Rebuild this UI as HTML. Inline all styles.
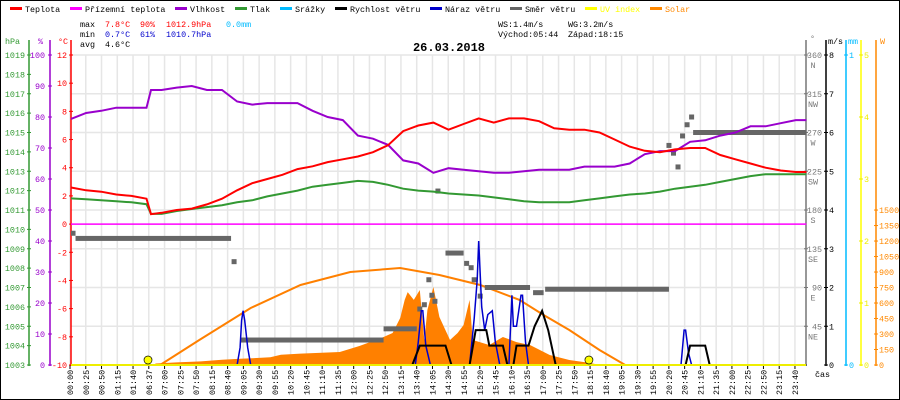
<!DOCTYPE html>
<html><head><meta charset="utf-8"><style>
html,body{margin:0;padding:0;background:#fff;}
svg{display:block;font-family:"Liberation Mono",monospace;}
</style></head><body>
<svg id="chart" width="900" height="400" viewBox="0 0 900 400" xmlns="http://www.w3.org/2000/svg">
<rect x="0.5" y="0.5" width="899" height="399" fill="#fff" stroke="#000"/>
<g id="grid"></g>
<g font-size="8.4">
<g><rect x="10" y="7" width="12" height="3" fill="#f00"/><text x="25" y="12">Teplota</text></g>
<g><rect x="70" y="7" width="12" height="3" fill="#f0f"/><text x="85" y="12">Přízemní teplota</text></g>
<g><rect x="175" y="7" width="12" height="3" fill="#90c"/><text x="190" y="12">Vlhkost</text></g>
<g><rect x="235" y="7" width="12" height="3" fill="#393"/><text x="250" y="12">Tlak</text></g>
<g><rect x="280" y="7" width="12" height="3" fill="#0bf"/><text x="295" y="12">Srážky</text></g>
<g><rect x="335" y="7" width="12" height="3" fill="#000"/><text x="350" y="12">Rychlost větru</text></g>
<g><rect x="430" y="7" width="12" height="3" fill="#00c"/><text x="445" y="12">Náraz větru</text></g>
<g><rect x="510" y="7" width="12" height="3" fill="#666"/><text x="525" y="12">Směr větru</text></g>
<g><rect x="585" y="7" width="12" height="3" fill="#ff0"/><text x="600" y="12" fill="#ff0">UV index</text></g>
<g><rect x="650" y="7" width="12" height="3" fill="#f80"/><text x="665" y="12" fill="#f80">Solar</text></g>
</g>
<g font-size="8.4">
<text x="80" y="27">max</text><text x="105" y="27" fill="#f00">7.8°C</text><text x="140" y="27" fill="#f00">90%</text><text x="166" y="27" fill="#f00">1012.9hPa</text><text x="226" y="27" fill="#0bf">0.0mm</text>
<text x="80" y="37">min</text><text x="105" y="37" fill="#00c">0.7°C</text><text x="140" y="37" fill="#00c">61%</text><text x="166" y="37" fill="#00c">1010.7hPa</text>
<text x="80" y="47">avg</text><text x="105" y="47">4.6°C</text>
<text x="498" y="27">WS:1.4m/s</text><text x="568" y="27">WG:3.2m/s</text>
<text x="498" y="37">Východ:05:44</text><text x="568" y="37">Západ:18:15</text>
</g>
<text x="449" y="51" font-size="12" font-weight="bold" text-anchor="middle">26.03.2018</text>
<g id="axes" font-size="8.4"></g>
<g id="marks"></g>
<text x="815" y="377" font-size="8.4">čas</text>
</svg>
<script>
// x domain: sample position t (0 .. 48.7)
const timeLabels = ["00:00","00:25","00:50","01:15","01:40","06:37","07:00","07:25","07:50","08:15","08:40","09:05","09:30","09:55","10:20","10:45","11:10","11:35","12:00","12:25","12:50","13:15","13:40","14:05","14:30","14:55","15:20","15:45","16:10","16:35","17:00","17:25","17:50","18:15","18:40","19:05","19:30","19:55","20:20","20:45","21:10","21:35","22:00","22:25","22:50","23:15","23:40"];
const tempT = [0,1,2,3,4,5,5.3,6,7,8,9,10,11,12,13,14,15,16,17,18,19,20,21,22,23,24,25,26,27,28,29,30,31,32,33,34,35,36,37,38,39,40,41,42,43,44,45,46,47,48,48.7];
const tempVal = [2.6,2.4,2.3,2.1,2.0,1.8,0.7,0.8,1.0,1.1,1.4,1.8,2.4,2.9,3.2,3.5,3.9,4.1,4.4,4.6,4.8,5.1,5.6,6.6,7.0,7.2,6.7,7.1,7.5,7.2,7.5,7.5,7.3,6.8,6.7,6.7,6.5,6.0,5.5,5.2,5.1,5.3,5.4,5.4,4.9,4.6,4.3,4.0,3.8,3.7,3.7];
const humVal = [79.4,81.3,82,83,83,83,88.7,88.7,89.5,90,88.7,88.7,85,84,84.5,84.5,84.5,82,80,79,74,73,71,66,65,62,63.5,63,62.5,62,62,62.5,63,63,63,64,64,64,65,68,69,69,72,72.5,74,75,77,77,78,79,79];
const pressVal = [1011.6,1011.55,1011.5,1011.45,1011.4,1011.3,1010.8,1010.8,1010.95,1011.05,1011.15,1011.25,1011.4,1011.5,1011.7,1011.85,1012.0,1012.2,1012.3,1012.4,1012.5,1012.45,1012.3,1012.1,1012.0,1011.95,1011.85,1011.8,1011.75,1011.65,1011.55,1011.45,1011.4,1011.4,1011.4,1011.5,1011.6,1011.7,1011.8,1011.85,1011.95,1012.1,1012.2,1012.3,1012.45,1012.6,1012.75,1012.85,1012.85,1012.85,1012.85];
const dewVal = [0,0];
const dewT = [0,48.7];
const speedT = [0,22.6,23.1,24.8,25.2,26.4,26.8,27.5,27.7,28.6,28.9,29.3,29.5,30.3,30.7,31.2,31.6,32.1,40.7,41.0,42.0,42.3,48.7];
const speedVal = [0,0,0.5,0.5,0,0,0.9,0.9,0.5,0.5,0,0,0.5,0.5,1.0,1.4,0.9,0,0,0.5,0.5,0,0];
const gustT = [0,11.0,11.2,11.3,11.4,11.5,11.7,11.9,22.8,23.0,23.2,23.3,23.5,23.8,26.4,26.7,26.9,27.0,27.2,27.4,27.6,27.9,28.1,28.4,29.0,29.2,29.3,29.5,29.8,29.9,30.1,30.3,40.4,40.6,40.7,40.9,41.1,48.7];
const gustVal = [0,0,0.45,1.15,1.4,1.15,0.45,0,0,0.6,1.4,1.4,0.5,0,0,1.2,2.2,3.2,1.5,0.9,1.3,1.4,0.6,0,0,1.8,1.0,1.0,1.8,1.8,0.6,0,0,0.9,0.9,0.3,0,0];
const dirRunStart = [0,0.3,11.2,20.7,24.8,27.4,30.6,31.4,41.2];
const dirRunEnd = [0.3,10.6,20.7,22.9,26.0,30.4,31.3,39.6,48.7];
const dirRunVal = [153,147,29,42,130,90,84,88,270];
const dirPtT = [10.8,23.1,23.4,23.7,23.9,24.1,24.3,26.2,26.5,26.7,27.1,39.6,39.9,40.2,40.5,40.8,41.1];
const dirPtVal = [120,65,70,99,81,74,202,118,113,99,80,255,246,230,266,279,288];
const solarT = [0,5.5,5.6,7,8.6,10.0,11.2,12.6,13.2,13.9,15.2,17.8,19.1,19.8,20.7,21.3,21.8,22.1,22.3,22.7,23.1,23.4,23.6,24.0,24.4,25.1,25.6,26.0,26.4,26.6,27.7,28.6,29.5,30.4,31.7,33.0,34.4,35.0,48.7];
const solarVal = [0,0,15,25,35,50,60,70,75,100,110,126,184,222,271,310,455,630,706,630,726,242,532,755,465,242,310,387,630,242,194,271,222,194,97,48,19,0,0];
const clearT = [5.9,8.5,11.9,15.2,18.5,21.8,24.4,27.1,29.7,31.3,33.0,35.0,36.7];
const clearVal = [0,242,552,774,900,939,871,774,630,484,339,145,0];
const uvDotT = [5.1,34.3];
const uvDotVal = [0,0];

const X0=71, X1=806, Y0=365, Y1=55;
function xs(t){return X0 + t*15.1;}
function yT(v){return Y0 - (v+10)*(Y0-Y1)/22;}
function yH(v){return Y0 - v*(Y0-Y1)/100;}
function yP(v){return Y0 - (v-1003)*(Y0-Y1)/16;}
function yS(v){return Y0 - v*(Y0-Y1)/8;}
function yD(v){return Y0 - v*(Y0-Y1)/360;}
function yW(v){return Y0 - v*0.1033;}
function yU(v){return Y0 - v*(Y0-Y1)/5;}
const NS="http://www.w3.org/2000/svg";
function mk(tag,attrs,parent){const e=document.createElementNS(NS,tag);for(const k in attrs)e.setAttribute(k,attrs[k]);parent.appendChild(e);return e;}
const grid=document.getElementById('grid'), axes=document.getElementById('axes'), marks=document.getElementById('marks');

// grid
for(let k=0;k<=8;k++){const y=Y0-k*(Y0-Y1)/8;const l=mk('line',{x1:X0,x2:X1,y1:y,y2:y,stroke:'#e6e6e6','stroke-width':1.5},grid);

}
timeLabels.forEach((lab,k)=>{const x=70+k*15.76;const l=mk('line',{x1:x,x2:x,y1:Y1,y2:Y0,stroke:'#e6e6e6','stroke-width':1.5},grid);


const t=mk('text',{x:0,y:0,transform:`translate(${x+3},395) rotate(-90)`,'font-size':8.4},axes);t.textContent=lab;


const tk=mk('line',{x1:x,x2:x,y1:365,y2:369,stroke:'#000'},axes);

});

// axis lines
const axisDefs=[[29,'#393'],[50,'#90c'],[71,'#f00'],[806,'#777'],[826,'#000'],[846,'#0bf'],[861,'#ff0'],[876,'#f80']];
axisDefs.forEach(a=>{const l=mk('line',{x1:a[0],x2:a[0],y1:40,y2:366,stroke:a[1],'stroke-width':1.5},axes);

});
function tickLabel(x,y,txt,col,anchor,name){const t=mk('text',{x:x,y:y+3,fill:col,'text-anchor':anchor},axes);t.textContent=txt;

}
function tick(x,y,col){const l=mk('line',{x1:x-2,x2:x+2,y1:y,y2:y,stroke:col},axes);

}
tickLabel(5,41,'hPa','#393','start','hpa-axis-title');
tickLabel(43,41,'%','#90c','end','humidity-axis-title');
tickLabel(58,41,'°C','#f00','start','temp-axis-title');
tickLabel(810,38,'°','#777','start','dir-axis-title');
tickLabel(828,41,'m/s','#000','start','speed-axis-title');
tickLabel(848,41,'mm','#0bf','start','rain-axis-title');
tickLabel(880,41,'W','#f80','start','solar-axis-title');
for(let v=1003;v<=1019;v++){tick(29,yP(v),'#393');tickLabel(25,yP(v),String(v),'#393','end','pressure-tick-label');}
for(let v=0;v<=100;v+=10){tick(50,yH(v),'#90c');tickLabel(45,yH(v),String(v),'#90c','end','humidity-tick-label');}
for(let v=-10;v<=12;v+=2){tick(71,yT(v),'#f00');tickLabel(67,yT(v),String(v),'#f00','end','temp-tick-label');}
const dirNames={360:'N',315:'NW',270:'W',225:'SW',180:'S',135:'SE',90:'E',45:'NE'};
for(let v=45;v<=360;v+=45){tick(806,yD(v),'#777');tickLabel(822,yD(v),String(v),'#777','end','dir-tick-label');tickLabel(813,yD(v)+10,dirNames[v],'#777','middle','dir-name-label');}
for(let v=0;v<=8;v++){tick(826,yS(v),'#000');tickLabel(829,yS(v),String(v),'#000','start','speed-tick-label');}
tick(846,Y0,'#0bf');tickLabel(849,Y0,'0','#0bf','start','rain-tick-label');tick(846,Y1,'#0bf');tickLabel(849,Y1,'1','#0bf','start','rain-tick-label');
for(let v=0;v<=5;v++){tick(861,yU(v),'#ee0');tickLabel(864,yU(v),String(v),'#ee0','start','uv-tick-label');}
for(let v=0;v<=1500;v+=150){tick(876,yW(v),'#f80');tickLabel(879,yW(v),String(v),'#f80','start','solar-tick-label');}

function pts(T,V,f){return T.map((t,i)=>xs(t).toFixed(1)+','+f(V[i]).toFixed(1)).join(' ');}
// solar fill
const sf=mk('polygon',{points:pts(solarT,solarVal,yW)+` ${xs(48.7)},${Y0} ${xs(0)},${Y0}`,fill:'#ff8000'},marks);


const cl=mk('polyline',{points:pts(clearT,clearVal,yW),fill:'none',stroke:'#ff8000','stroke-width':2},marks);


const dw=mk('polyline',{points:pts(dewT,dewVal,yT),fill:'none',stroke:'#f0f','stroke-width':1.5},marks);


// wind direction
dirRunVal.forEach((v,i)=>{const r=mk('rect',{x:xs(dirRunStart[i]),y:yD(v)-2.5,width:Math.max(3,xs(dirRunEnd[i])-xs(dirRunStart[i])),height:5,fill:'#666'},marks);

});
dirPtVal.forEach((v,i)=>{const r=mk('rect',{x:xs(dirPtT[i])-2.5,y:yD(v)-2.5,width:5,height:5,fill:'#666'},marks);

});
const pl=mk('polyline',{points:pts(tempT,pressVal,yP),fill:'none',stroke:'#393','stroke-width':2},marks);


const hl=mk('polyline',{points:pts(tempT,humVal,yH),fill:'none',stroke:'#90c','stroke-width':2},marks);


const tl=mk('polyline',{points:pts(tempT,tempVal,yT),fill:'none',stroke:'#f00','stroke-width':2},marks);


const gl=mk('polyline',{points:pts(gustT,gustVal,yS),fill:'none',stroke:'#00c','stroke-width':1.5},marks);


const sl=mk('polyline',{points:pts(speedT,speedVal,yS),fill:'none',stroke:'#000','stroke-width':2},marks);


const ub=mk('line',{x1:X0,x2:X1,y1:Y0,y2:Y0,stroke:'#ee0','stroke-width':2},marks);


uvDotT.forEach((t,i)=>{const c=mk('circle',{cx:xs(t),cy:yU(uvDotVal[i])-5,r:4,fill:'#ff0',stroke:'#000','stroke-width':0.7},marks);

});
</script>
</body></html>
